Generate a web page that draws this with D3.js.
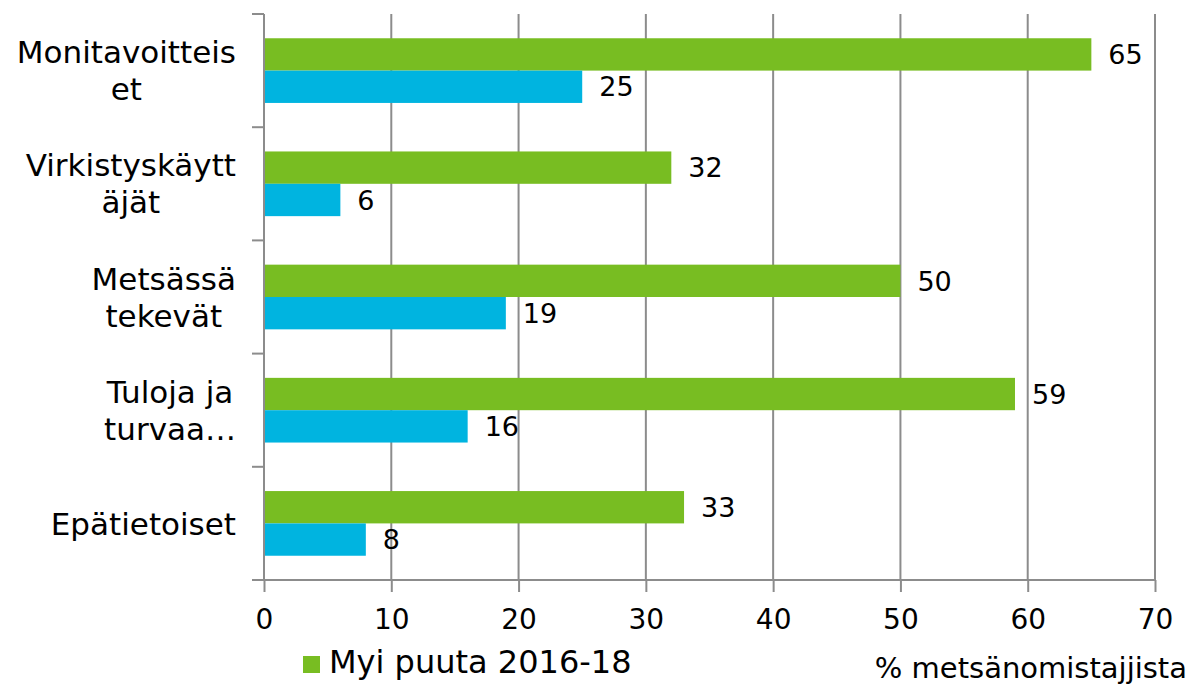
<!DOCTYPE html>
<html lang="fi">
<head>
<meta charset="utf-8">
<style type="text/css">
body { margin: 0; background: #fff; }
text { font-family: "DejaVu Sans", Verdana, sans-serif; fill: #000; }
.grid line { stroke: #8c8c8c; stroke-width: 2px; }
.axis path, .axis line { stroke: #8c8c8c; stroke-width: 2px; fill: none; }
</style>
</head>
<body>
<svg width="1191" height="685"></svg>
<script src="https://cdn.jsdelivr.net/npm/d3@7/dist/d3.min.js"></script>
<script type="text/javascript">
// categories, each label split into its wrapped lines
var categories = ["Monitavoitteiset", "Virkistyskäyttäjät", "Metsässä tekevät", "Tuloja ja turvaa…", "Epätietoiset"];
var labelLines = [["Monitavoitteis", "et"], ["Virkistyskäytt", "äjät"], ["Metsässä", "tekevät"], ["Tuloja ja", "turvaa…"], ["Epätietoiset"]];
var soldTimber = [65, 32, 50, 59, 33];   // Myi puuta 2016-18
var otherSeries = [25, 6, 19, 16, 8];
var xTicks = [0, 10, 20, 30, 40, 50, 60, 70];

var svg = d3.select("svg"),
    plotL = 264, plotR = 1155, plotT = 14, plotB = 580;

var x = d3.scaleLinear().domain([0, 70]).range([plotL, plotR]);
var y = d3.scaleBand().domain(categories).range([plotT, plotB]);
var inner = d3.scaleBand().domain(["a", "b"]).range([0, y.bandwidth()]).paddingOuter(0.75).paddingInner(0);

// vertical gridlines
svg.append("g").attr("class", "grid")
    .selectAll("line").data(xTicks.slice(1)).enter().append("line")
    .attr("x1", function (d) { return x(d); }).attr("x2", function (d) { return x(d); })
    .attr("y1", plotT).attr("y2", plotB);

// bars
var groups = svg.selectAll(".cat").data(categories).enter().append("g")
    .attr("class", "cat")
    .attr("transform", function (d) { return "translate(0," + y(d) + ")"; });

groups.append("rect")
    .attr("x", x(0)).attr("y", inner("a"))
    .attr("width", function (d, i) { return x(soldTimber[i]) - x(0); })
    .attr("height", inner.bandwidth())
    .attr("fill", "#78bd22");

groups.append("rect")
    .attr("x", x(0)).attr("y", inner("b"))
    .attr("width", function (d, i) { return x(otherSeries[i]) - x(0); })
    .attr("height", inner.bandwidth())
    .attr("fill", "#00b4e0");

groups.append("text")
    .attr("x", function (d, i) { return x(soldTimber[i]) + 17; })
    .attr("y", inner("a") + inner.bandwidth() / 2)
    .attr("dy", "0.36em")
    .style("font-size", "27px")
    .text(function (d, i) { return soldTimber[i]; });

groups.append("text")
    .attr("x", function (d, i) { return x(otherSeries[i]) + 17; })
    .attr("y", inner("b") + inner.bandwidth() / 2)
    .attr("dy", "0.36em")
    .style("font-size", "27px")
    .text(function (d, i) { return otherSeries[i]; });

// category labels, lines centred on each other, block right-aligned
groups.each(function (d, i) {
    var g = d3.select(this);
    var lines = labelLines[i];
    var lh = 37;
    var t = g.append("text").style("font-size", "31px").attr("text-anchor", "middle");
    lines.forEach(function (s, k) {
        t.append("tspan").attr("x", 0)
            .attr("y", y.bandwidth() / 2 + (k - (lines.length - 1) / 2) * lh)
            .attr("dy", "0.36em")
            .text(s);
    });
    var w = t.node().getBBox().width;
    t.selectAll("tspan").attr("x", 236 - w / 2);
});

// left axis with band separators
var yAxis = svg.append("g").attr("class", "axis");
yAxis.append("line").attr("x1", plotL).attr("x2", plotL).attr("y1", plotT).attr("y2", plotB);
yAxis.selectAll(".sep").data(categories.concat(["end"])).enter().append("line")
    .attr("x1", plotL - 12).attr("x2", plotL)
    .attr("y1", function (d, i) { return plotT + i * y.bandwidth(); })
    .attr("y2", function (d, i) { return plotT + i * y.bandwidth(); });

// bottom axis
var xAxis = d3.axisBottom(x).tickValues(xTicks).tickSize(12).tickSizeOuter(0);
var gx = svg.append("g").attr("class", "axis")
    .attr("transform", "translate(0," + plotB + ")")
    .call(xAxis);
gx.select(".domain").attr("d", "M" + (plotL - 12) + ",0H" + plotR);
gx.selectAll("text").style("font-size", "28px").attr("fill", "#000")
    .attr("y", 49).attr("dy", 0)
    .style("font-family", "'DejaVu Sans', Verdana, sans-serif");

// legend
var lg = svg.append("g").attr("transform", "translate(303,656)");
lg.append("rect").attr("width", 17).attr("height", 17).attr("fill", "#78bd22");
lg.append("text").attr("x", 26).attr("y", 17)
    .style("font-size", "32px").text("Myi puuta 2016-18");

svg.append("text").attr("x", 1187).attr("y", 678).attr("text-anchor", "end")
    .style("font-size", "29px").text("% metsänomistajjista");
</script>
</body>
</html>
